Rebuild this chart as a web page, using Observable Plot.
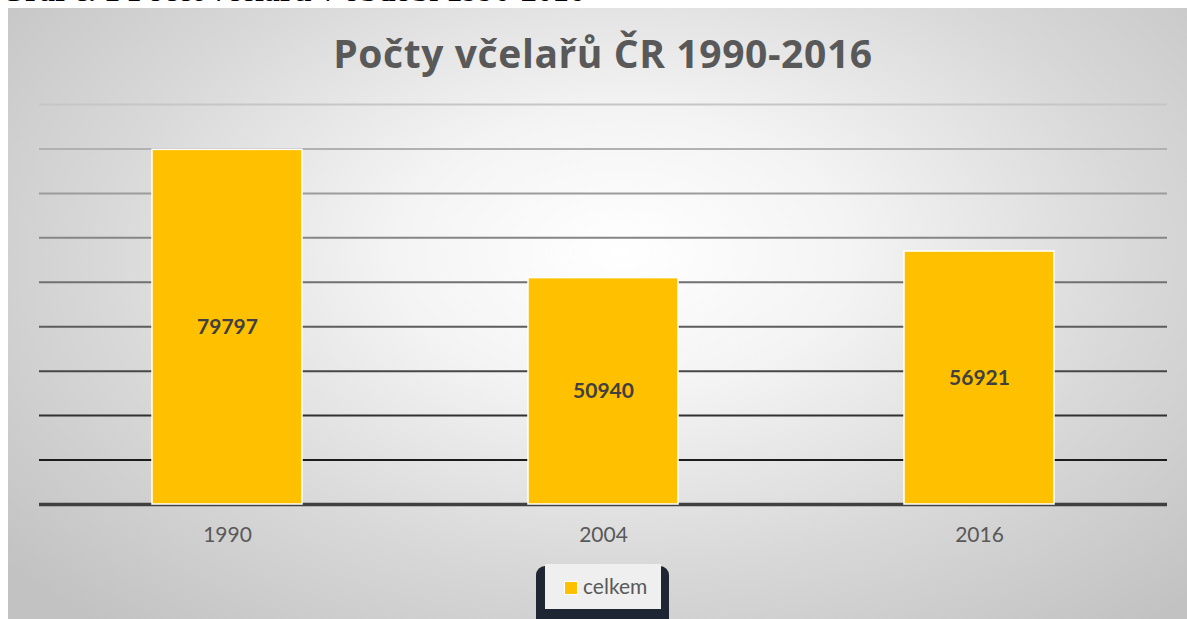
<!DOCTYPE html>
<html>
<head>
<meta charset="utf-8">
<script src="https://cdn.jsdelivr.net/npm/d3@7"></script>
<script src="https://cdn.jsdelivr.net/npm/@observablehq/plot@0.6"></script>
<style>
  html, body { margin: 0; padding: 0; background: #ffffff; width: 1187px; height: 619px; overflow: hidden; position: relative; }
  #doc-caption { position: absolute; left: 0; top: -21px; font: bold 32px "Liberation Serif", serif; line-height: 22px; color: #000; white-space: nowrap; }
  #chart-box { position: absolute; left: 8px; top: 8px; width: 1179px; height: 611px;
    background: radial-gradient(ellipse 68% 80% at 52% 40%, #ffffff 0%, #f4f4f4 28%, #d8d8d8 65%, #c2c2c2 100%); }
  #title { position: absolute; left: 0; top: 21px; width: 1190px; text-align: center; font: bold 39px "Open Sans", Lato, sans-serif; letter-spacing: 0.6px; color: #595959; line-height: 48px; }
  #plot { position: absolute; left: 0; top: 82px; }
  #legend-outer { position: absolute; left: 528px; top: 558px; width: 133px; height: 70px; background: #1f2633; border-radius: 9px; }
  #legend-inner { position: absolute; left: 537px; top: 556px; width: 116px; height: 45px; background: #efefef; }
  #legend-swatch { position: absolute; left: 556px; top: 573px; width: 12px; height: 12px; background: #FFC000; border: 1px solid #ffffff; }
  #legend-text { position: absolute; left: 575px; top: 565px; font: 21px Lato, "Open Sans", sans-serif; color: #595959; }
</style>
</head>
<body>
<div id="doc-caption">Graf č. 1 Počet včelařů v období 1990-2016</div>
<div id="chart-box">
  <div id="title">Počty včelařů ČR 1990-2016</div>
  <div id="plot"></div>
  <div id="legend-outer"></div>
  <div id="legend-inner"></div>
  <div id="legend-swatch"></div>
  <div id="legend-text">celkem</div>
</div>
<script>
const years = ["1990", "2004", "2016"];
const celkem = [79797, 50940, 56921];
const gridTicks = [10000, 20000, 30000, 40000, 50000, 60000, 70000, 80000, 90000];

const data = years.map((y, i) => ({year: y, value: celkem[i]}));
const gridShade = d3.scaleLinear().domain([10000, 90000]).range(["#1c1c1c", "#c6c6c6"]);

const chart = Plot.plot({
  width: 1179,
  height: 478,
  marginTop: 14,
  marginBottom: 64,
  marginLeft: 31,
  marginRight: 20,
  style: {background: "transparent", fontFamily: "Lato, 'Open Sans', sans-serif"},
  x: {domain: years, paddingInner: 0.6, paddingOuter: 0.3, label: null},
  y: {domain: [0, 90000], axis: null},
  color: {type: "identity"},
  marks: [
    Plot.ruleY(gridTicks, {y: d => d, stroke: d => gridShade(d), strokeWidth: 2}),
    Plot.ruleY([0], {stroke: "#404040", strokeWidth: 3.5}),
    Plot.barY(data, {x: "year", y: "value", fill: "#FFC000", stroke: "#ffffff", strokeWidth: 1.5}),
    Plot.text(data, {x: "year", y: d => d.value / 2, text: d => String(d.value), fill: "#404040", fontSize: 21, fontWeight: "bold"}),
    Plot.axisX({tickSize: 0, tickPadding: 23, fontSize: 21, color: "#595959", label: null})
  ]
});
document.getElementById("plot").appendChild(chart);
</script>
</body>
</html>
